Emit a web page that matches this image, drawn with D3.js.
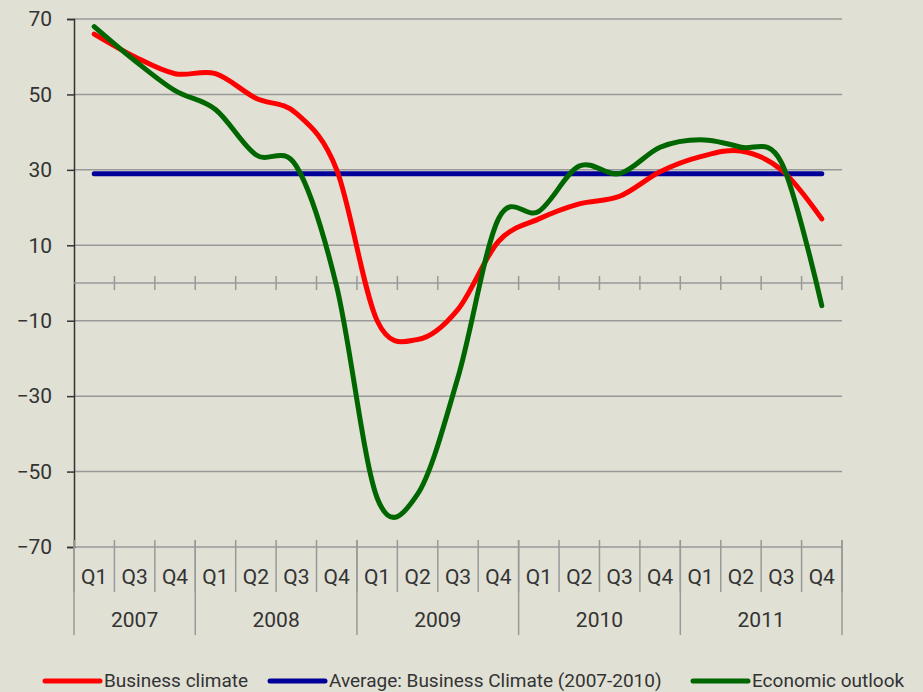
<!DOCTYPE html>
<html><head><meta charset="utf-8">
<script src="https://cdn.jsdelivr.net/npm/d3@7"></script>
<style>
html,body{margin:0;padding:0;background:#E0E0D5;}
svg{display:block;}
text{font-family:Roboto,"DejaVu Sans",sans-serif;fill:#333;}
</style></head>
<body>
<svg id="chart" width="923" height="692"></svg>
<script>
const quarters = ["Q1","Q3","Q4","Q1","Q2","Q3","Q4","Q1","Q2","Q3","Q4","Q1","Q2","Q3","Q4","Q1","Q2","Q3","Q4"];
const yearLabels = ["2007","2008","2009","2010","2011"];
const yearSpans = [3,4,4,4,4];
const businessClimate = [66,60,55.5,55.5,49,45,30,-10,-15,-7,11,17,21,23,29.5,33.5,35,30,17];
const economicOutlook = [68,59,51,46,34,31,-1,-57,-56,-25,17,19,31,29,36,38,36,32,-6];
const averageValue = 29;
const yTicks = [-70,-50,-30,-10,10,30,50,70];
const seriesNames = ["Business climate","Average: Business Climate (2007-2010)","Economic outlook"];
const seriesColors = ["#FF0000","#000099","#006600"];

(function(){
const svg = d3.select("#chart");
const pL = 74, pR = 842, pT = 19, pB = 547;
const idx = d3.range(quarters.length);
const x = d3.scaleBand().domain(idx).range([pL, pR]).padding(0);
const y = d3.scaleLinear().domain([-70, 70]).range([pB, pT]);
const cx = i => x(i) + x.bandwidth()/2;
const grid = "#999";

// gridlines
svg.append("g").selectAll("line").data(yTicks).join("line")
  .attr("x1", pL).attr("x2", pR)
  .attr("y1", d => y(d)).attr("y2", d => y(d))
  .attr("stroke", grid).attr("stroke-width", 1.5);

// y axis
const yAxis = svg.append("g").attr("transform", `translate(${pL},0)`)
  .call(d3.axisLeft(y).tickValues(yTicks).tickSize(7).tickPadding(15).tickFormat(d3.format("d")));
yAxis.select(".domain").attr("stroke", "#333").attr("stroke-width", 1.5);
yAxis.selectAll(".tick line").attr("stroke", "#333").attr("stroke-width", 1.5);
yAxis.selectAll(".tick text").attr("font-size", 21).attr("fill", "#333")
  .style("font-family", "Roboto, sans-serif");

// x axis at zero
const y0 = y(0);
svg.append("line").attr("x1", pL).attr("x2", pR).attr("y1", y0).attr("y2", y0)
  .attr("stroke", grid).attr("stroke-width", 1.5);
const bounds = idx.map(i => x(i)).concat([pR]);
svg.append("g").selectAll("line").data(bounds.slice(1)).join("line")
  .attr("x1", d => d).attr("x2", d => d).attr("y1", y0 - 7).attr("y2", y0 + 7)
  .attr("stroke", grid).attr("stroke-width", 1.5);

// category box at bottom
svg.append("g").selectAll("line").data(bounds).join("line")
  .attr("x1", d => d).attr("x2", d => d).attr("y1", pB - 7).attr("y2", pB + 45)
  .attr("stroke", grid).attr("stroke-width", 1.5);
let acc = 0; const yearBounds = [x(0)];
const yearCenters = [];
yearSpans.forEach(s => {
  const start = x(acc); acc += s;
  const end = acc < quarters.length ? x(acc) : pR;
  yearBounds.push(end); yearCenters.push((start + end) / 2);
});
svg.append("g").selectAll("line").data(yearBounds).join("line")
  .attr("x1", d => d).attr("x2", d => d).attr("y1", pB - 7).attr("y2", pB + 88)
  .attr("stroke", grid).attr("stroke-width", 1.5);
svg.append("g").selectAll("text").data(quarters).join("text")
  .attr("x", (d, i) => cx(i)).attr("y", 577).attr("dy", "0.35em")
  .attr("text-anchor", "middle").attr("font-size", 21).text(d => d);
svg.append("g").selectAll("text").data(yearLabels).join("text")
  .attr("x", (d, i) => yearCenters[i]).attr("y", 620).attr("dy", "0.35em")
  .attr("text-anchor", "middle").attr("font-size", 21).text(d => d);

// lines
const line = d3.line().x((d, i) => cx(i)).y(d => y(d)).curve(d3.curveCardinal.tension(0));
const avgSeries = quarters.map(() => averageValue);
const straight = d3.line().x((d, i) => cx(i)).y(d => y(d));
svg.append("path").attr("d", straight(avgSeries)).attr("fill", "none")
  .attr("stroke", seriesColors[1]).attr("stroke-width", 5).attr("stroke-linecap", "round");
svg.append("path").attr("d", line(businessClimate)).attr("fill", "none")
  .attr("stroke", seriesColors[0]).attr("stroke-width", 5).attr("stroke-linecap", "round");
svg.append("path").attr("d", line(economicOutlook)).attr("fill", "none")
  .attr("stroke", seriesColors[2]).attr("stroke-width", 5).attr("stroke-linecap", "round");

// legend
const legX = [45, 270, 693];
const leg = svg.append("g").selectAll("g").data(seriesNames).join("g")
  .attr("transform", (d, i) => `translate(${legX[i]},680)`);
leg.append("line").attr("x1", 0).attr("x2", 55).attr("y1", 1).attr("y2", 1)
  .attr("stroke", (d, i) => seriesColors[i]).attr("stroke-width", 5).attr("stroke-linecap", "round");
leg.append("text").attr("x", 59).attr("y", 0).attr("dy", "0.35em")
  .attr("font-size", 19).text(d => d);
})();
</script>
</body></html>
